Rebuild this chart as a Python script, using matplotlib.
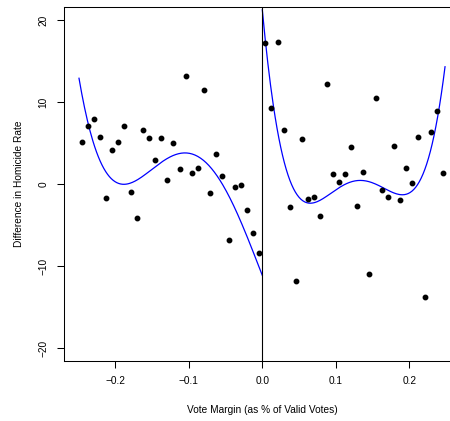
import numpy as np
import matplotlib
matplotlib.use('Agg')
import matplotlib.pyplot as plt

plt.rcParams['font.family'] = ['Liberation Sans', 'DejaVu Sans']

# binned means, left of the cutoff
left_x = [-0.24583, -0.23750, -0.22917, -0.22083, -0.21250, -0.20417, -0.19583, -0.18750,
          -0.17917, -0.17083, -0.16250, -0.15417, -0.14583, -0.13750, -0.12917, -0.12083,
          -0.11250, -0.10417, -0.09583, -0.08750, -0.07917, -0.07083, -0.06250, -0.05417,
          -0.04583, -0.03750, -0.02917, -0.02083, -0.01250, -0.00417]
left_y = [5.16, 7.07, 7.97, 5.69, -1.67, 4.11, 5.16, 7.07,
          -0.94, -4.07, 6.62, 5.57, 2.93, 5.65, 0.49, 4.96,
          1.79, 13.25, 1.30, 2.03, 11.54, -1.06, 3.66, 1.02,
          -6.83, -0.37, -0.08, -3.17, -5.98, -8.41]

# binned means, right of the cutoff
right_x = [0.00417, 0.01250, 0.02083, 0.02917, 0.03750, 0.04583, 0.05417, 0.06250,
           0.07083, 0.07917, 0.08750, 0.09583, 0.10417, 0.11250, 0.12083, 0.12917,
           0.13750, 0.14583, 0.15417, 0.16250, 0.17083, 0.17917, 0.18750, 0.19583,
           0.20417, 0.21250, 0.22083, 0.22917, 0.23750, 0.24583]
right_y = [17.23, 9.31, 17.32, 6.55, -2.77, -11.83, 5.45, -1.79,
           -1.54, -3.90, 12.23, 1.18, 0.28, 1.18, 4.51, -2.65,
           1.43, -11.01, 10.52, -0.73, -1.54, 4.67, -1.99, 1.95,
           0.12, 5.73, -13.78, 6.38, 8.98, 1.30]

# fitted curve
fit_left_x = [-0.2494, -0.2367, -0.2163, -0.1913, -0.157, -0.139, -0.1256, -0.1075,
              -0.0712, -0.0484, -0.0258, -0.0008]
fit_left_y = [13.09, 7.07, 1.91, 0.28, 1.1, 2.72, 3.33, 3.82,
              2.11, -1.34, -4.80, -11.1]
fit_right_x = [0.0, 0.006, 0.0128, 0.0264, 0.0445, 0.0626, 0.0921, 0.0989,
               0.1329, 0.1646, 0.1955, 0.219, 0.2373, 0.2486]
fit_right_y = [21.4, 16.3, 10.24, 4.15, -0.73, -2.48, -1.14, -0.73,
               0.69, -0.73, -1.38, 1.3, 8.2, 13.9]

# quartic through the read points on each side
cl = np.polyfit(fit_left_x, fit_left_y, 4)
cr = np.polyfit(fit_right_x, fit_right_y, 4)
xl = np.linspace(fit_left_x[0], 0, 200)
xr = np.linspace(0, fit_right_x[-1], 200)

fig = plt.figure(figsize=(4.5, 4.21), dpi=100)
ax = fig.add_axes([0.1419, 0.1425, 0.882, 0.8402])

ax.plot(xl, np.polyval(cl, xl), color='blue', lw=0.9)
ax.plot(xr, np.polyval(cr, xr), color='blue', lw=0.9)
ax.plot(left_x, left_y, 'o', color='black', ms=3.2)
ax.plot(right_x, right_y, 'o', color='black', ms=3.2)
ax.axvline(0, color='black', lw=0.8)

ax.set_xlim(-0.27, 0.27)
ax.set_ylim(-21.57, 21.57)
ax.set_xticks([-0.2, -0.1, 0.0, 0.1, 0.2])
ax.set_xticklabels(['\u22120.2', '\u22120.1', '0.0', '0.1', '0.2'])
ax.set_yticks([-20, -10, 0, 10, 20])
ax.set_yticklabels(['\u221220', '\u221210', '0', '10', '20'], rotation=90, va='center')
ax.tick_params(length=5, width=0.75, labelsize=7.3, pad=6)
for s in ax.spines.values():
    s.set_linewidth(0.75)

ax.set_xlabel('Vote Margin (as % of Valid Votes)', fontsize=7.3, labelpad=13.5)
ax.set_ylabel('Difference in Homicide Rate', fontsize=7.3, labelpad=10.5)

fig.savefig('out.png', dpi=100)
